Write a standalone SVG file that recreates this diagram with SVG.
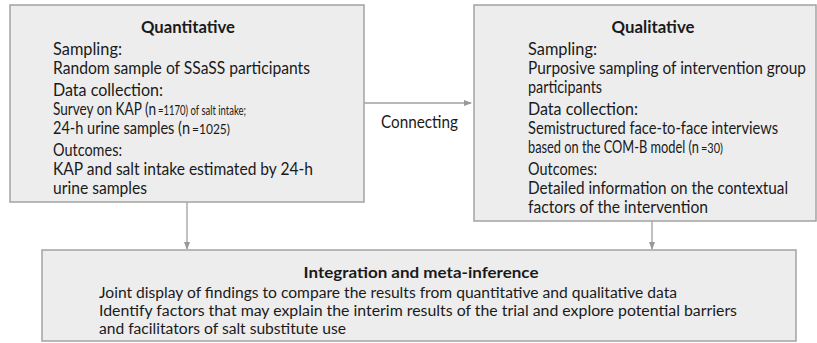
<svg xmlns="http://www.w3.org/2000/svg" width="817" height="343" viewBox="0 0 817 343">
<defs>
<style>
.box{fill:#ededee;stroke:#a3a3a3;stroke-width:1.5}
.t{font-family:Lato,"Open Sans","Liberation Sans",sans-serif;font-size:17px;fill:#1a1a1a}
.h{font-family:Lato,"Open Sans","Liberation Sans",sans-serif;font-size:17px;font-weight:bold;fill:#1a1a1a}
.s{font-size:13px}
.b{font-family:Lato,"Open Sans","Liberation Sans",sans-serif;font-size:15.5px;fill:#1a1a1a}
.bh{font-family:Lato,"Open Sans","Liberation Sans",sans-serif;font-size:16px;font-weight:bold;fill:#1a1a1a}
.c{stroke:#a0a0a0;stroke-width:1.3;fill:none}
</style>
<marker id="ah" markerWidth="8" markerHeight="8" refX="7" refY="4" orient="auto" markerUnits="userSpaceOnUse">
<path d="M0,1 L8,4 L0,7 Z" fill="#999"/>
</marker>
</defs>
<g id="connectors">
<line class="c" x1="364" y1="103" x2="471" y2="103" marker-end="url(#ah)"/>
<line class="c" x1="187" y1="202" x2="187" y2="249" marker-end="url(#ah)"/>
<line class="c" x1="652" y1="221" x2="652" y2="249" marker-end="url(#ah)"/>
<text class="t" x="381" y="128" textLength="77" lengthAdjust="spacingAndGlyphs">Connecting</text>
</g>
<g id="quantitative">
<rect class="box" x="10" y="5" width="354" height="197"/>
<text class="h" x="188" y="33" text-anchor="middle" textLength="94" lengthAdjust="spacingAndGlyphs">Quantitative</text>
<text class="t" x="53" y="55" textLength="69" lengthAdjust="spacingAndGlyphs">Sampling:</text>
<text class="t" x="53" y="74" textLength="257" lengthAdjust="spacingAndGlyphs">Random sample of SSaSS participants</text>
<text class="t" x="53" y="96" textLength="110" lengthAdjust="spacingAndGlyphs">Data collection:</text>
<text class="t" x="53" y="115"><tspan textLength="103" lengthAdjust="spacingAndGlyphs">Survey on KAP (n</tspan><tspan class="s" dx="2" textLength="88" lengthAdjust="spacingAndGlyphs">=1170) of salt intake;</tspan></text>
<text class="t" x="53" y="134"><tspan textLength="137" lengthAdjust="spacingAndGlyphs">24-h urine samples  (n</tspan><tspan class="s" dx="2" textLength="38" lengthAdjust="spacingAndGlyphs">=1025)</tspan></text>
<text class="t" x="53" y="156" textLength="69" lengthAdjust="spacingAndGlyphs">Outcomes:</text>
<text class="t" x="53" y="175" textLength="260" lengthAdjust="spacingAndGlyphs">KAP and salt intake estimated by 24-h</text>
<text class="t" x="53" y="194" textLength="94" lengthAdjust="spacingAndGlyphs">urine samples</text>
</g>
<g id="qualitative">
<rect class="box" x="474" y="5" width="342" height="216"/>
<text class="h" x="653" y="33" text-anchor="middle" textLength="83" lengthAdjust="spacingAndGlyphs">Qualitative</text>
<text class="t" x="528" y="55" textLength="69" lengthAdjust="spacingAndGlyphs">Sampling:</text>
<text class="t" x="528" y="74" textLength="278" lengthAdjust="spacingAndGlyphs">Purposive sampling of intervention group</text>
<text class="t" x="528" y="93" textLength="74" lengthAdjust="spacingAndGlyphs">participants</text>
<text class="t" x="528" y="115" textLength="110" lengthAdjust="spacingAndGlyphs">Data collection:</text>
<text class="t" x="528" y="134" textLength="250" lengthAdjust="spacingAndGlyphs">Semistructured face-to-face interviews</text>
<text class="t" x="528" y="153"><tspan textLength="171" lengthAdjust="spacingAndGlyphs">based on the COM-B model (n</tspan><tspan class="s" dx="2" textLength="22" lengthAdjust="spacingAndGlyphs">=30)</tspan></text>
<text class="t" x="528" y="175" textLength="69" lengthAdjust="spacingAndGlyphs">Outcomes:</text>
<text class="t" x="528" y="194" textLength="260" lengthAdjust="spacingAndGlyphs">Detailed information on the contextual</text>
<text class="t" x="528" y="213" textLength="180" lengthAdjust="spacingAndGlyphs">factors of the intervention</text>
</g>
<g id="integration">
<rect class="box" x="42" y="250" width="754" height="91"/>
<text class="bh" x="421" y="278" text-anchor="middle" textLength="235" lengthAdjust="spacingAndGlyphs">Integration and meta-inference</text>
<text class="b" x="99" y="298" textLength="578" lengthAdjust="spacingAndGlyphs">Joint display of findings to compare the results from quantitative and qualitative data</text>
<text class="b" x="99" y="316" textLength="638" lengthAdjust="spacingAndGlyphs">Identify factors that may explain the interim results of the trial and explore potential barriers</text>
<text class="b" x="99" y="334" textLength="247" lengthAdjust="spacingAndGlyphs">and facilitators of salt substitute use</text>
</g>
</svg>
